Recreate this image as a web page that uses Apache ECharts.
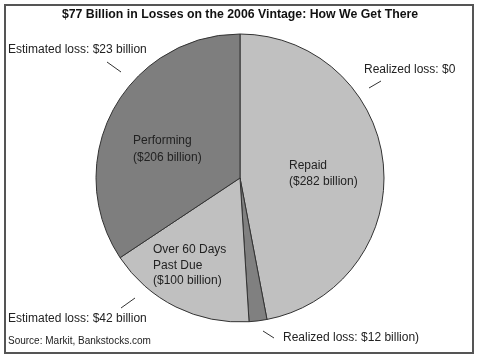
<!DOCTYPE html>
<html>
<head>
<meta charset="utf-8">
<script src="https://cdn.jsdelivr.net/npm/echarts@6/dist/echarts.min.js"></script>
<style>html,body{margin:0;padding:0;background:#fff}#c{width:480px;height:358px}</style>
</head>
<body>
<div id="c"></div>
<script>
var categories = ['Repaid', 'Realized loss', 'Over 60 Days Past Due', 'Performing'];
var values = [282, 12, 100, 206];
var sliceLabels = ['Repaid\n($282 billion)', '', 'Over 60 Days\nPast Due\n($100 billion)', 'Performing\n($206 billion)'];
var lossNotes = ['Realized loss: $0', 'Realized loss: $12 billion)', 'Estimated loss: $42 billion', 'Estimated loss: $23 billion'];
var titleText = '$77 Billion in Losses on the 2006 Vintage: How We Get There';
var sourceText = 'Source: Markit, Bankstocks.com';

var colors = ['#c0c0c0', '#808080', '#c0c0c0', '#7e7e7e'];
var insideLabelPos = [[289, 158], null, [153, 242], [133, 132]];
var lineH = [16, 0, 15.5, 17];

var chart = echarts.init(document.getElementById('c'), null, {renderer: 'canvas'});
var FONT = 'Liberation Sans, Arial, sans-serif';

var data = categories.map(function (c, i) {
  return {
    name: c, value: values[i],
    itemStyle: {color: colors[i]},
    label: {show: !!sliceLabels[i], formatter: sliceLabels[i], lineHeight: lineH[i]}
  };
});

var noteStyle = {fontFamily: FONT, fontSize: 12, fill: '#222'};
function txt(s, x, y, extra) {
  var st = Object.assign({text: s, x: x, y: y, textVerticalAlign: 'middle'}, noteStyle, extra || {});
  return {type: 'text', style: st, z: 10};
}
function seg(x1, y1, x2, y2) {
  return {type: 'line', shape: {x1: x1, y1: y1, x2: x2, y2: y2}, style: {stroke: '#333', lineWidth: 1}, z: 10};
}

chart.setOption({
  animation: false,
  backgroundColor: '#fff',
  title: {
    text: titleText, left: 'center', top: 4,
    textStyle: {fontFamily: FONT, fontSize: 12.3, fontWeight: 'bold', color: '#111'}
  },
  graphic: [
    {type: 'rect', shape: {x: 5, y: 5, width: 468, height: 348}, style: {fill: 'none', stroke: '#555', lineWidth: 2}, z: 0},
    txt(lossNotes[3], 8, 50), seg(107, 62, 121, 72),
    txt(lossNotes[0], 364, 70), seg(369, 88, 381, 81),
    txt(lossNotes[2], 8, 319), seg(121, 308, 135, 298),
    txt(lossNotes[1], 283, 338), seg(263, 331, 274, 338),
    txt(sourceText, 8, 341, {fontSize: 10})
  ],
  series: [{
    type: 'pie',
    center: [240, 178],
    radius: 144,
    startAngle: 90,
    clockwise: true,
    data: data,
    itemStyle: {borderColor: '#333', borderWidth: 1},
    label: {
      position: 'inside', fontFamily: FONT, fontSize: 12, color: '#222', align: 'left'
    },
    labelLine: {show: false},
    emphasis: {disabled: true},
    labelLayout: function (p) {
      var pos = insideLabelPos[p.dataIndex];
      if (!pos) return {};
      return {x: pos[0], y: pos[1], align: 'left', verticalAlign: 'top'};
    }
  }]
});
</script>
</body>
</html>
